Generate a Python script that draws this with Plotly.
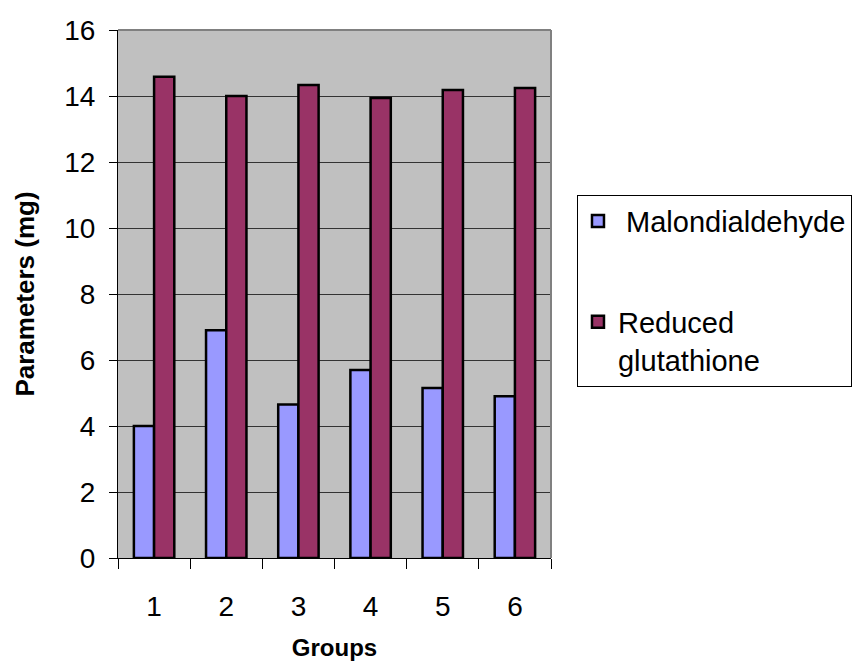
import plotly.graph_objects as go

groups = ["1", "2", "3", "4", "5", "6"]
malondialdehyde = [4.0, 6.9, 4.65, 5.7, 5.15, 4.9]
reduced_glutathione = [14.58, 14.0, 14.33, 13.94, 14.18, 14.24]
y_ticks = [0, 2, 4, 6, 8, 10, 12, 14, 16]

fig = go.Figure()
fig.add_trace(go.Bar(
    x=groups, y=malondialdehyde, name=" Malondialdehyde", legendgroup="a",
    marker=dict(color="#9999ff", line=dict(color="black", width=2.5)),
))
fig.add_trace(go.Bar(
    x=groups, y=reduced_glutathione, name="Reduced<br>glutathione", legendgroup="b",
    marker=dict(color="#993366", line=dict(color="black", width=2.5)),
))

fig.update_layout(
    width=852, height=661,
    margin=dict(l=118, r=301, t=30, b=103, autoexpand=False),
    paper_bgcolor="white",
    plot_bgcolor="#c0c0c0",
    barmode="group",
    bargap=0.44,
    bargroupgap=0.0,
    font=dict(family="Liberation Sans, Arial", color="black"),
    showlegend=True,
    legend=dict(
        x=1.06, y=0.688, xanchor="left", yanchor="top",
        bordercolor="black", borderwidth=1, bgcolor="white",
        font=dict(size=29),
        tracegroupgap=60,
        traceorder="grouped",
        itemwidth=30,
        valign="top",
    ),
    xaxis=dict(
        type="category",
        tickson="boundaries",
        ticks="outside", ticklen=10, tickcolor="black", tickwidth=1,
        tickfont=dict(size=28),
        ticklabelstandoff=23,
        showline=True, linecolor="black", linewidth=1,
        showgrid=False,
        automargin=False,
        title=dict(text="<b>Groups</b>", font=dict(size=24), standoff=22),
    ),
    yaxis=dict(
        range=[0, 16],
        tickvals=y_ticks,
        ticks="outside", ticklen=8, tickcolor="black",
        tickfont=dict(size=28),
        ticklabelstandoff=8,
        showline=True, linecolor="black", linewidth=1,
        showgrid=True, gridcolor="#333333", gridwidth=1,
        zeroline=False,
        automargin=False,
        title=dict(text="<b>Parameters (mg)</b>", font=dict(size=26), standoff=22),
    ),
)

fig.add_shape(type="line", xref="paper", yref="paper", x0=0, x1=1, y0=1, y1=1,
              line=dict(color="#808080", width=2))
fig.add_shape(type="line", xref="paper", yref="paper", x0=1, x1=1, y0=0, y1=1,
              line=dict(color="#808080", width=2))

fig.write_html("out.html", config={"displayModeBar": False},
               post_script="document.body.style.margin='0px';")
